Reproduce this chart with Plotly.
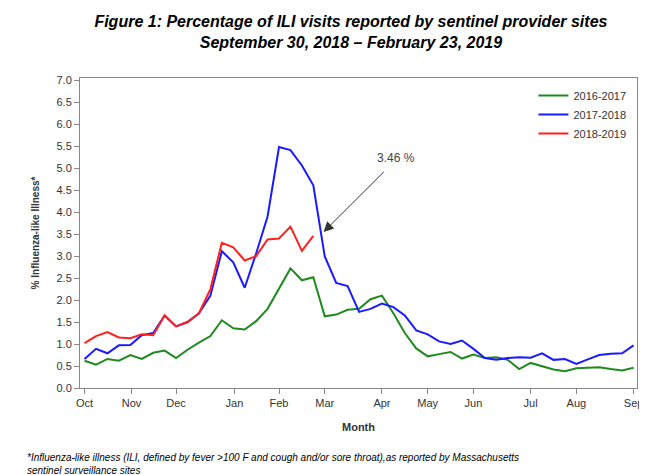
import plotly.graph_objects as go

weeks = list(range(49))
green_1617 = [0.62, 0.53, 0.66, 0.62, 0.75, 0.66, 0.8, 0.85, 0.68, 0.87, 1.03, 1.18, 1.54, 1.36,
              1.33, 1.52, 1.8, 2.25, 2.72, 2.45, 2.52, 1.63, 1.67, 1.78, 1.8, 2.02, 2.1, 1.7, 1.25,
              0.9, 0.72, 0.77, 0.82, 0.67, 0.76, 0.68, 0.7, 0.64, 0.43, 0.57, 0.5, 0.42, 0.38, 0.45,
              0.46, 0.47, 0.43, 0.4, 0.46]
blue_1718 = [0.66, 0.89, 0.79, 0.97, 0.98, 1.2, 1.25, 1.65, 1.4, 1.5, 1.7, 2.1, 3.11, 2.86, 2.28,
             3.06, 3.9, 5.48, 5.41, 5.06, 4.61, 2.99, 2.39, 2.32, 1.73, 1.8, 1.92, 1.84, 1.65, 1.31,
             1.22, 1.06, 1.0, 1.08, 0.89, 0.68, 0.64, 0.68, 0.7, 0.69, 0.79, 0.64, 0.66, 0.55, 0.65,
             0.75, 0.78, 0.79, 0.97]
red_1819 = [1.02, 1.18, 1.27, 1.15, 1.13, 1.22, 1.2, 1.65, 1.4, 1.5, 1.7, 2.25, 3.3, 3.2, 2.9,
            3.0, 3.38, 3.4, 3.67, 3.12, 3.46]
month_ticks = [0, 4.1, 8, 13.1, 17, 21, 26, 30, 34, 39, 43, 48]
month_labels = ["Oct", "Nov", "Dec", "Jan", "Feb", "Mar", "Apr", "May", "Jun", "Jul", "Aug", "Sep"]

fig = go.Figure()
fig.add_trace(go.Scatter(x=weeks, y=green_1617, mode="lines", name="2016-2017",
                         line=dict(color="#1f8a1f", width=2)))
fig.add_trace(go.Scatter(x=weeks, y=blue_1718, mode="lines", name="2017-2018",
                         line=dict(color="#1a1aff", width=2)))
fig.add_trace(go.Scatter(x=weeks[:len(red_1819)], y=red_1819, mode="lines", name="2018-2019",
                         line=dict(color="#ff2020", width=2)))

fig.add_annotation(x=20.9, y=3.55, ax=26.3, ay=4.95, axref="x", ayref="y",
                   text="", showarrow=True, arrowhead=2, arrowsize=2, arrowwidth=1,
                   arrowcolor="#333")
fig.add_annotation(x=27.2, y=5.22, text="3.46 %", showarrow=False,
                   font=dict(size=12, color="#444"))

fig.update_layout(
    width=647, height=475,
    paper_bgcolor="white", plot_bgcolor="white",
    margin=dict(l=72, r=16, t=70, b=95),
    font=dict(family="Liberation Sans, Arial", size=11, color="#333"),
    title=dict(text="<b><i>Figure 1: Percentage of ILI visits reported by sentinel provider sites<br>"
                    "September 30, 2018 – February 23, 2019</i></b>",
               x=0.53, xanchor="center", y=0.96, yanchor="top",
               font=dict(family="Liberation Sans, Arial", size=16, color="black")),
    legend=dict(x=0.99, y=0.99, xanchor="right", yanchor="top", bgcolor="rgba(0,0,0,0)",
                font=dict(size=11)),
    xaxis=dict(range=[-0.4, 48.3], tickvals=month_ticks, ticktext=month_labels,
               showgrid=False, zeroline=False, showline=True, linecolor="#888",
               ticks="outside", ticklen=5, tickcolor="#888", mirror=True,
               title=dict(text="<b>Month</b>", font=dict(size=11))),
    yaxis=dict(range=[0, 7.05], tickvals=[i * 0.5 for i in range(15)], tickformat=".1f",
               showgrid=False, zeroline=False, showline=True, linecolor="#888",
               ticks="outside", ticklen=5, tickcolor="#888", mirror=True,
               title=dict(text="<b>% Influenza-like Illness*</b>", font=dict(size=10))),
)
fig.add_annotation(x=0, y=-0.2, xref="paper", yref="paper", xanchor="left", yanchor="top",
                   align="left", showarrow=False,
                   text="<i>*Influenza-like illness (ILI, defined by fever >100 F and cough and/or sore throat),"
                        "as reported by Massachusetts<br>sentinel surveillance sites</i>",
                   font=dict(size=10, color="black"), xshift=-55)

fig.write_html("out.html")
